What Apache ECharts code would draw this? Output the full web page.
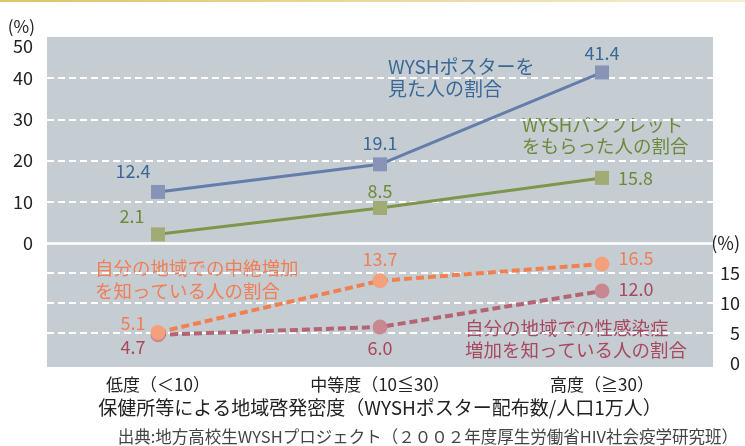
<!DOCTYPE html>
<html>
<head>
<meta charset="utf-8">
<script src="https://cdn.jsdelivr.net/npm/echarts@6/dist/echarts.min.js"></script>
<style>
html, body { margin: 0; padding: 0; background: #fff; }
#chart { width: 745px; height: 446px; }
</style>
</head>
<body>
<div id="chart"></div>
<script>
"use strict";

// categories (distribution density of WYSH posters per 10,000 people)
const categories = ['低度（＜10）', '中等度（10≦30）', '高度（≧30）'];

// upper panel, left axis (%)
const posterSeen = [12.4, 19.1, 41.4];
const pamphletGot = [2.1, 8.5, 15.8];

// lower panel, right axis (%)
const abortionAware = [5.1, 13.7, 16.5];
const stiAware = [4.7, 6.0, 12.0];

// axis ranges [min, max, interval]
const topAxis = [0, 50, 10];
const bottomAxis = [0, 20, 5];

const FONT = '"Noto Sans CJK JP", "Noto Sans", sans-serif';
const GRAY = '#c5cdd3';

const C = {
    poster:   { line: '#647dab', mark: '#8793b7', text: '#3a6796' },
    pamphlet: { line: '#7d964b', mark: '#a0ac73', text: '#6c8a3a' },
    abortion: { line: '#f08050', mark: '#f5a07d', text: '#f07d55' },
    sti:      { line: '#b46473', mark: '#c88791', text: '#a8485e' }
};

// where each value label sits relative to its marker
const posterLbl   = [{ position: 'top', offset: [-25, 0] }, { position: 'top' }, { position: 'top', offset: [0, 2] }];
const pamphletLbl = [{ position: 'top', offset: [-26, 3] }, { position: 'top', offset: [0, 4] }, { position: 'right', distance: 9 }];
const abortionLbl = [{ position: 'left', offset: [0, -9] }, { position: 'top' }, { position: 'right', distance: 9, offset: [0, -6] }];
const stiLbl      = [{ position: 'left', offset: [0, 12] }, { position: 'bottom' }, { position: 'right', distance: 9, offset: [0, -2] }];

function withLabels(values, lbls) {
    return values.map((v, i) => ({ value: v, label: lbls[i] }));
}

function lineSeries(name, values, lbls, col, opts) {
    return Object.assign({
        name: name,
        type: 'line',
        data: withLabels(values, lbls),
        symbol: 'rect',
        symbolSize: 14,
        lineStyle: { color: col.line, width: 3 },
        itemStyle: { color: col.mark },
        label: {
            show: true,
            color: col.text,
            fontSize: 18,
            fontFamily: FONT,
            formatter: p => p.value.toFixed(1)
        },
        emphasis: { disabled: true },
        animation: false
    }, opts);
}

const chart = echarts.init(document.getElementById('chart'));

const splitLine = {
    show: true,
    showMinLine: false,
    showMaxLine: false,
    lineStyle: { color: '#fff', type: [7, 4], width: 2 }
};

const option = {
    animation: false,
    textStyle: { fontFamily: FONT },
    title: {
        text: '出典:地方高校生WYSHプロジェクト（２００２年度厚生労働省HIV社会疫学研究班）',
        right: 7,
        top: 428,
        padding: 0,
        textStyle: { fontSize: 16.5, fontWeight: 'normal', color: '#444', fontFamily: FONT }
    },
    grid: [
        { left: 47, right: 32, top: 37, height: 206, show: true, backgroundColor: GRAY, borderWidth: 0 },
        { left: 47, right: 32, top: 243, height: 120, show: true, backgroundColor: GRAY, borderWidth: 0 }
    ],
    xAxis: [
        {
            gridIndex: 0, type: 'category', data: categories,
            axisLine: { lineStyle: { color: '#fff', width: 2.5 } },
            axisTick: { show: false },
            axisLabel: { show: false }
        },
        {
            gridIndex: 1, type: 'category', data: categories,
            axisLine: { show: false },
            axisTick: { show: false },
            axisLabel: { margin: 13, fontSize: 17, color: '#222', fontFamily: FONT },
            name: '保健所等による地域啓発密度（WYSHポスター配布数/人口1万人）',
            nameLocation: 'middle',
            nameGap: 35,
            nameTextStyle: { fontSize: 19, color: '#222', fontFamily: FONT }
        }
    ],
    yAxis: [
        {
            gridIndex: 0, type: 'value',
            min: topAxis[0], max: topAxis[1], interval: topAxis[2],
            axisLine: { show: false },
            axisTick: { show: false },
            axisLabel: { margin: 14, fontSize: 18, color: '#222', fontFamily: FONT, verticalAlignMaxLabel: 'top' },
            splitLine: splitLine,
            name: '(%)',
            nameLocation: 'end',
            nameGap: 2,
            nameTextStyle: { fontSize: 17, color: '#222', align: 'right', padding: [0, 12, 0, 0], fontFamily: FONT }
        },
        {
            gridIndex: 1, type: 'value', position: 'right',
            min: bottomAxis[0], max: bottomAxis[1], interval: bottomAxis[2],
            axisLine: { show: false },
            axisTick: { show: false },
            axisLabel: {
                margin: 27, align: 'right', fontSize: 18, color: '#222', fontFamily: FONT,
                formatter: v => v === bottomAxis[1] ? '(%)' : String(v)
            },
            splitLine: splitLine
        }
    ],
    series: [
        lineSeries('WYSHポスターを見た人の割合', posterSeen, posterLbl, C.poster, {}),
        lineSeries('WYSHパンフレットをもらった人の割合', pamphletGot, pamphletLbl, C.pamphlet, {}),
        lineSeries('自分の地域での性感染症増加を知っている人の割合', stiAware, stiLbl, C.sti, {
            xAxisIndex: 1, yAxisIndex: 1, symbol: 'circle', symbolSize: 15,
            lineStyle: { color: C.sti.line, width: 4, type: [8, 4] }
        }),
        lineSeries('自分の地域での中絶増加を知っている人の割合', abortionAware, abortionLbl, C.abortion, {
            xAxisIndex: 1, yAxisIndex: 1, symbol: 'circle', symbolSize: 15,
            lineStyle: { color: C.abortion.line, width: 4, type: [8, 4] }
        })
    ],
    graphic: [
        {
            type: 'rect', left: 0, top: 0, silent: true,
            shape: { width: 745, height: 2 },
            style: {
                fill: new echarts.graphic.LinearGradient(0, 0, 1, 0, [
                    { offset: 0, color: '#dcc468' },
                    { offset: 1, color: '#f5eed0' }
                ])
            }
        },
        {
            type: 'rect', left: 47, top: 363, silent: true,
            shape: { width: 666, height: 4 },
            style: { fill: GRAY }
        },
        {
            type: 'text', left: 388, top: 56, silent: true,
            style: { text: 'WYSHポスターを\n見た人の割合', fill: C.poster.text, fontSize: 19, lineHeight: 22, fontFamily: FONT }
        },
        {
            type: 'text', left: 522, top: 114, silent: true,
            style: { text: 'WYSHパンフレット\nをもらった人の割合', fill: C.pamphlet.text, fontSize: 18.5, lineHeight: 21, fontFamily: FONT }
        },
        {
            type: 'text', left: 95, top: 256, silent: true,
            style: { text: '自分の地域での中絶増加\nを知っている人の割合', fill: C.abortion.text, fontSize: 18.5, lineHeight: 23, fontFamily: FONT }
        },
        {
            type: 'text', left: 465, top: 317, silent: true,
            style: { text: '自分の地域での性感染症\n増加を知っている人の割合', fill: C.sti.text, fontSize: 18.5, lineHeight: 22, fontFamily: FONT }
        }
    ]
};

chart.setOption(option);
</script>
</body>
</html>
